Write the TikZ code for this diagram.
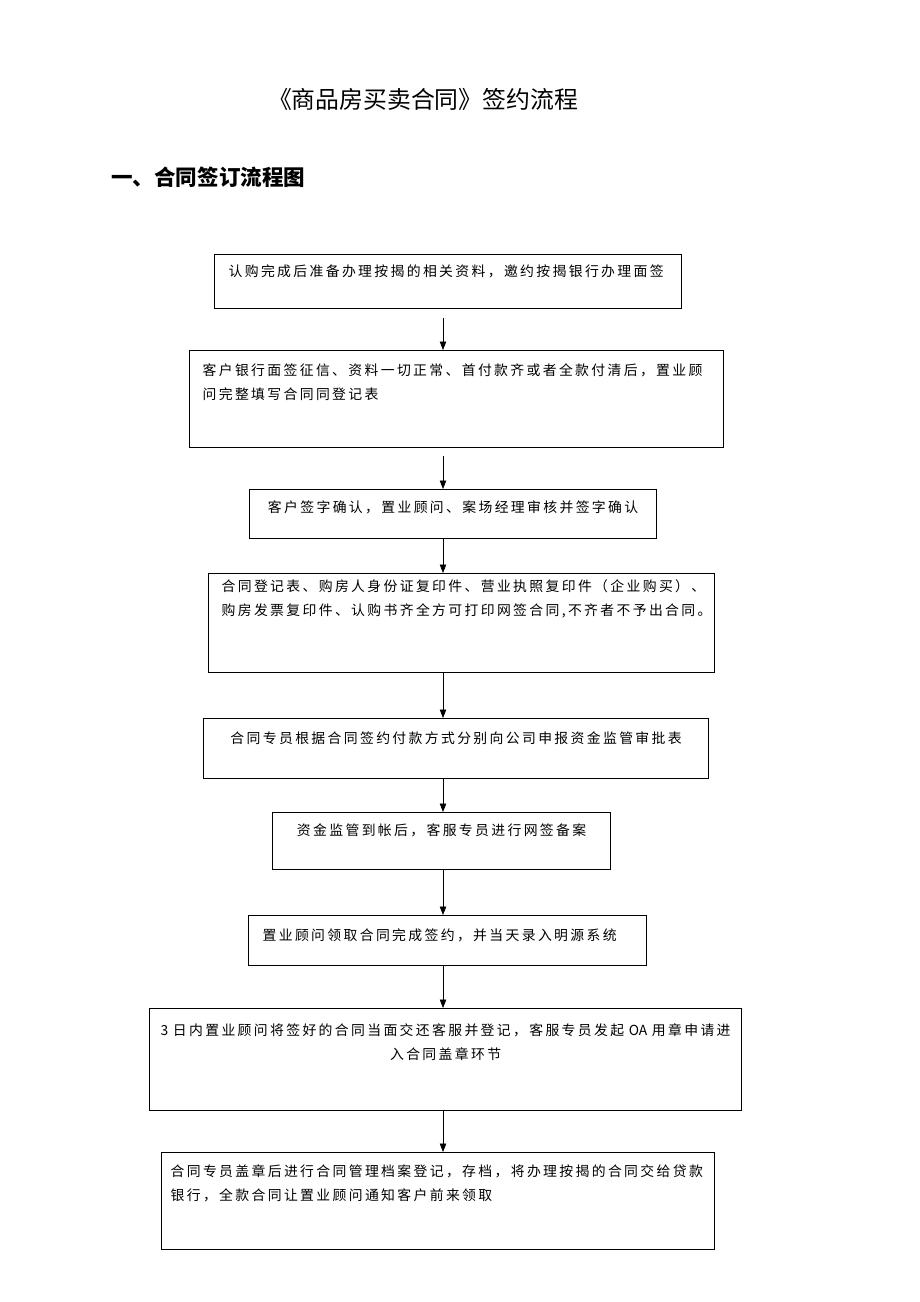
\documentclass[tikz,border=0pt]{standalone}
\usepackage{fontspec}
\newfontfamily\cjk[LetterSpace=17]{Noto Sans CJK SC}
\newfontfamily\cjktitle{Noto Sans CJK SC}
\usetikzlibrary{arrows.meta,positioning}
\tikzset{
    -{Triangle[length=5.5pt,width=4.2pt]},line width=0.7pt,
    stage/.style ={rectangle, draw, line width=0.8pt, inner sep=0pt, anchor=north west,
                   font=\cjk\fontsize{9pt}{15.6pt}\selectfont},
    title/.style = {inner sep=0pt, font=\cjktitle\fontsize{15.5pt}{18pt}\selectfont},
    heading/.style = {inner sep=0pt, font=\cjktitle\bfseries\fontsize{14pt}{17pt}\selectfont}
}
\begin{document}
\begin{tikzpicture}[x=0.65pt,y=-0.65pt]
	\useasboundingbox (0,0) rectangle (920,1302);
	\tikzstyle{l}=[stage, align=left]
	\tikzstyle{c}=[stage, align=center]

	\node[title] (t) at (423,99) {《商品房买卖合同》签约流程};
	\node[heading, anchor=west] (h) at (111,177) {一、合同签订流程图};

	\coordinate (s) at (443,0);

	\node[l, minimum width=303.55pt, text width=285.35pt, text height=14.3pt, text depth=20.8pt] (1) at (214,254)
		{认购完成后准备办理按揭的相关资料，邀约按揭银行办理面签};
	\node[l, minimum width=347.1pt, text width=330.2pt, text height=16.25pt, text depth=46.8pt] (2) at (189,350)
		{客户银行面签征信、资料一切正常、首付款齐或者全款付清后，置业顾\\问完整填写合同同登记表};
	\node[c, minimum width=264.55pt, text width=248.95pt, text height=14.95pt, text depth=16.9pt] (3) at (249,489)
		{客户签字确认，置业顾问、案场经理审核并签字确认};
	\node[l, minimum width=328.9pt, text width=312pt, text height=11.7pt, text depth=52.65pt] (4) at (208,573)
		{合同登记表、购房人身份证复印件、营业执照复印件（企业购买）、\\购房发票复印件、认购书齐全方可打印网签合同,不齐者不予出合同。};
	\node[c, minimum width=328.25pt, text width=312.65pt, text height=16.25pt, text depth=22.75pt] (5) at (203,718)
		{合同专员根据合同签约付款方式分别向公司申报资金监管审批表};
	\node[c, minimum width=219.7pt, text width=204.1pt, text height=14.95pt, text depth=22.1pt] (6) at (272,812)
		{资金监管到帐后，客服专员进行网签备案};
	\node[l, minimum width=258.7pt, text width=240.5pt, text height=16.25pt, text depth=16.25pt] (7) at (248,915)
		{置业顾问领取合同完成签约，并当天录入明源系统};
	\node[c, minimum width=384.8pt, text width=377pt, text height=17.55pt, text depth=48.75pt] (8) at (149,1008)
		{3 日内置业顾问将签好的合同当面交还客服并登记，客服专员发起 {\cjktitle OA} 用章申请进\\入合同盖章环节};
	\node[l, minimum width=359.45pt, text width=347.75pt, text height=15.6pt, text depth=47.45pt] (9) at (161,1152)
		{合同专员盖章后进行合同管理档案登记，存档，将办理按揭的合同交给贷款\\银行，全款合同让置业顾问通知客户前来领取};

	\path (1.south -| s) edge[shorten <=5.85pt] (2.north -| s);
	\path (2.south -| s) edge[shorten <=5.2pt] (3.north -| s);
	\path (3.south -| s) edge (4.north -| s);
	\path (4.south -| s) edge (5.north -| s);
	\path (5.south -| s) edge (6.north -| s);
	\path (6.south -| s) edge (7.north -| s);
	\path (7.south -| s) edge (8.north -| s);
	\path (8.south -| s) edge (9.north -| s);
\end{tikzpicture}
\end{document}
